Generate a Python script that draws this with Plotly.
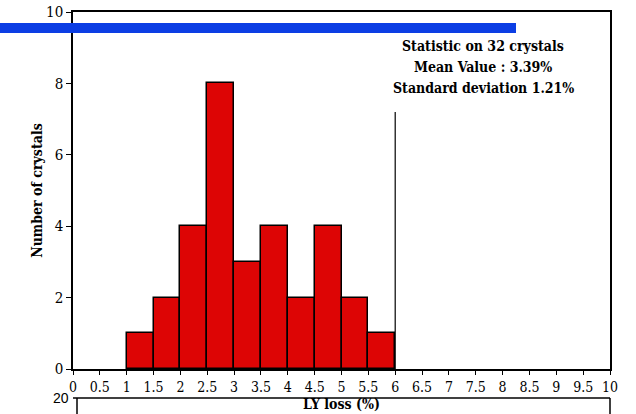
import plotly.graph_objects as go

# Histogram of light-yield loss over the crystal sample
bin_centers = [1.25, 1.75, 2.25, 2.75, 3.25, 3.75, 4.25, 4.75, 5.25, 5.75]
counts = [1, 2, 4, 8, 3, 4, 2, 4, 2, 1]
bin_width = 0.5

x_ticks = [0, 0.5, 1, 1.5, 2, 2.5, 3, 3.5, 4, 4.5, 5, 5.5, 6, 6.5, 7, 7.5, 8, 8.5, 9, 9.5, 10]
y_ticks = [0, 2, 4, 6, 8, 10]

marker_x = 6.0
marker_top = 7.2

stat_lines = ["Statistic on 32 crystals", "Mean Value : 3.39%", "Standard deviation 1.21%"]

SERIF = "DejaVu Serif Condensed, DejaVu Serif, serif"

fig = go.Figure()
fig.add_trace(go.Bar(
    x=bin_centers, y=counts, width=bin_width,
    marker=dict(color="#dd0505", line=dict(color="black", width=1.5)),
    showlegend=False,
))
fig.add_trace(go.Scatter(
    x=[marker_x, marker_x], y=[0, marker_top], mode="lines",
    line=dict(color="black", width=1.2), showlegend=False,
))

fig.update_layout(
    width=636, height=414,
    margin=dict(l=73, r=26, t=12, b=45, autoexpand=False),
    paper_bgcolor="white", plot_bgcolor="white",
    font=dict(family=SERIF, color="black", size=15),
    bargap=0,
    xaxis=dict(
        range=[0, 10], tickvals=x_ticks, ticktext=[f"{v:g}" for v in x_ticks],
        ticks="outside", ticklen=4, tickcolor="black", showgrid=False, zeroline=False,
        showline=True, linecolor="black", linewidth=1.5, mirror=True,
        tickfont=dict(family=SERIF, size=14), automargin=False,
    ),
    yaxis=dict(
        range=[0, 10], tickvals=y_ticks, ticks="outside", ticklen=5, tickcolor="black",
        showgrid=False, zeroline=False, showline=True, linecolor="black", linewidth=1.5,
        mirror=True, tickfont=dict(family=SERIF, size=15), automargin=False,
        title=dict(text="<b>Number of crystals</b>", font=dict(family=SERIF, size=14), standoff=0),
    ),
)

# Statistics box text
for i, line in enumerate(stat_lines):
    fig.add_annotation(
        x=(483 - 73) / 537, y=0.905 - i * 0.059, xref="paper", yref="paper",
        text=f"<b>{line}</b>", showarrow=False, font=dict(family=SERIF, size=14),
        xanchor="center", yanchor="middle",
    )

# Blue header band
fig.add_shape(type="rect", xref="paper", yref="paper",
              x0=-73 / 537, x1=(516 - 73) / 537, y0=(369 - 33) / 357, y1=(369 - 23) / 357,
              fillcolor="#0c3ee4", line=dict(width=0), layer="above")

# Lower panel frame with its top tick label and the axis title
y_low = (369 - 398) / 357
y_bot = (369 - 440) / 357
x_left = 4 / 537
fig.add_shape(type="line", xref="paper", yref="paper", x0=x_left, x1=1, y0=y_low, y1=y_low,
              line=dict(color="black", width=1.5))
fig.add_shape(type="line", xref="paper", yref="paper", x0=x_left, x1=x_left, y0=y_low, y1=y_bot,
              line=dict(color="black", width=1.5))
fig.add_shape(type="line", xref="paper", yref="paper", x0=1, x1=1, y0=y_low, y1=y_bot,
              line=dict(color="black", width=1.5))
fig.add_shape(type="line", xref="paper", yref="paper", x0=x_left - 4 / 537, x1=x_left, y0=y_low, y1=y_low,
              line=dict(color="black", width=1.5))
fig.add_annotation(x=x_left - 6 / 537, y=y_low, xref="paper", yref="paper", text="20",
                   showarrow=False, xanchor="right", yanchor="middle",
                   font=dict(family="Liberation Sans, Arial, sans-serif", size=14))
fig.add_annotation(x=0.5, y=(369 - 404) / 357, xref="paper", yref="paper", text="<b>LY loss (%)</b>",
                   showarrow=False, xanchor="center", yanchor="middle", borderpad=0,
                   font=dict(family=SERIF, size=14))

fig.write_html("out.html")
